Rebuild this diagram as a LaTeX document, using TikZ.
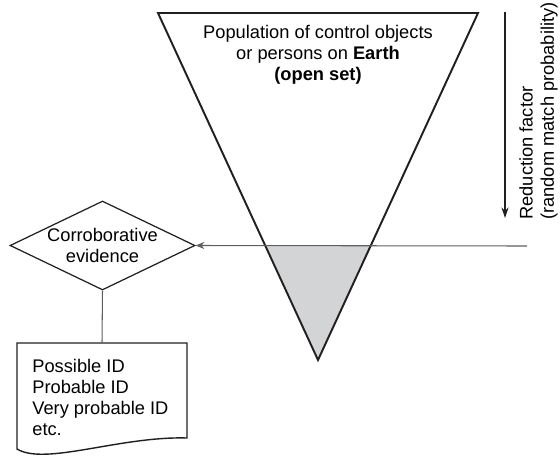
\documentclass[tikz,border=0pt]{standalone}
\usepackage{fontspec}
\setmainfont{Liberation Sans}
\usetikzlibrary{shapes.geometric, arrows.meta, positioning}
\definecolor{outline}{RGB}{35,31,32}
\definecolor{linkgray}{RGB}{95,95,95}
\definecolor{setfill}{RGB}{211,212,214}
\tikzset{
  setedge/.style={draw=outline, line width=1.1pt, line join=miter},
  decision/.style={diamond, draw=outline, line width=0.7pt, aspect=2.08,
    inner sep=0pt, minimum width=3.7cm, minimum height=1.78cm, align=center},
  doctext/.style={inner sep=0pt, align=left},
  link/.style={draw=linkgray, line width=0.6pt},
  arrow/.style={link, -{Stealth[length=5pt, width=4pt]}},
  downarrow/.style={draw=outline, line width=0.6pt, -{Stealth[length=6pt, width=4pt]}},
}

\begin{document}
\begin{tikzpicture}[x=0.02cm, y=-0.02cm, font=\fontsize{10.4}{12}\selectfont]
  \useasboundingbox (0,0) rectangle (560,456);
  % shaded part of the set below the cut
  \fill[setfill] (266,246) -- (371,246) -- (318,360) -- cycle;
  \draw[setedge] (158,13) coordinate (poptl) -- (478,13) coordinate (poptr)
    -- (318,360) coordinate (popapex) -- cycle;
  \node[align=center] (pop) at (318,55)
    {Population of control objects\\or persons on \textbf{Earth}\\\textbf{(open set)}};
  % reduction factor
  \coordinate (redtop) at (505,12);
  \coordinate (redbot) at (505,218);
  \draw[downarrow] (redtop) -- (redbot);
  \node[rotate=90, anchor=west, align=left, inner sep=0pt] (redlabel) at (538.5,220)
    {Reduction factor\\(random match probability)};
  % corroborative evidence
  \node[decision] (evid) at (102.5,245.5) {Corroborative\\evidence};
  \coordinate (cutend) at (527,246);
  \draw[arrow] (cutend) -- (evid.east);
  % identification outcome
  \draw[setedge, line width=0.8pt] (17,343) coordinate (doctl) -- (187,343)
    -- (187,438) .. controls (120,436) and (45,466) .. (17,449) -- cycle;
  \coordinate (doctop) at (102,343);
  \draw[link] (evid.south) -- (doctop);
  \node[doctext, anchor=north west] (ids) at (32,359)
    {Possible ID\\Probable ID\\Very probable ID\\etc.};
\end{tikzpicture}
\end{document}
